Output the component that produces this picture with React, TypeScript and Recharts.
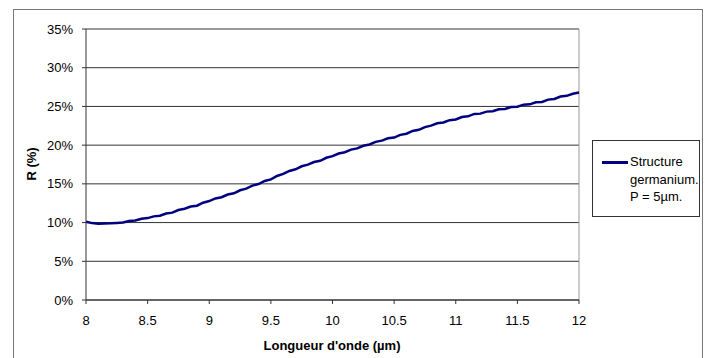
import { LineChart, Line, XAxis, YAxis, CartesianGrid, ReferenceLine } from 'recharts';

const wavelengths = [
  8.0, 8.05, 8.1, 8.15, 8.2, 8.25, 8.3, 8.35, 8.4, 8.45,
  8.5, 8.55, 8.6, 8.65, 8.7, 8.75, 8.8, 8.85, 8.9, 8.95,
  9.0, 9.05, 9.1, 9.15, 9.2, 9.25, 9.3, 9.35, 9.4, 9.45,
  9.5, 9.55, 9.6, 9.65, 9.7, 9.75, 9.8, 9.85, 9.9, 9.95,
  10.0, 10.05, 10.1, 10.15, 10.2, 10.25, 10.3, 10.35, 10.4, 10.45,
  10.5, 10.55, 10.6, 10.65, 10.7, 10.75, 10.8, 10.85, 10.9, 10.95,
  11.0, 11.05, 11.1, 11.15, 11.2, 11.25, 11.3, 11.35, 11.4, 11.45,
  11.5, 11.55, 11.6, 11.65, 11.7, 11.75, 11.8, 11.85, 11.9, 11.95,
  12.0,
];

// R (%)
const reflectance = [
  10.1, 9.93, 9.85, 9.88, 9.9, 9.96, 10.0, 10.2, 10.28, 10.5,
  10.58, 10.8, 10.88, 11.16, 11.28, 11.62, 11.78, 12.07, 12.18, 12.57,
  12.78, 13.12, 13.28, 13.62, 13.78, 14.17, 14.38, 14.77, 14.98, 15.37,
  15.58, 16.02, 16.28, 16.67, 16.88, 17.27, 17.48, 17.82, 17.98, 18.37,
  18.58, 18.92, 19.08, 19.42, 19.58, 19.92, 20.08, 20.42, 20.58, 20.88,
  20.98, 21.33, 21.48, 21.83, 21.98, 22.33, 22.52, 22.83, 22.92, 23.23,
  23.32, 23.63, 23.72, 24.03, 24.07, 24.33, 24.37, 24.63, 24.67, 24.93,
  24.97, 25.23, 25.27, 25.53, 25.57, 25.88, 25.97, 26.28, 26.37, 26.63,
  26.8,
];

const xTicks = [8, 8.5, 9, 9.5, 10, 10.5, 11, 11.5, 12];
const yTicks = [0, 5, 10, 15, 20, 25, 30, 35];

const seriesName = ['Structure', 'germanium.', 'P = 5µm.'];

const data = wavelengths.map((w, i) => ({ w, r: reflectance[i] }));

const font = '"Liberation Sans", Arial, sans-serif';
const tickStyle = { fontSize: 13, fill: '#000', fontFamily: font };

export default function App() {
  return (
    <div style={{ position: 'fixed', left: 0, top: 0, width: 706, height: 358, background: '#fff', overflow: 'hidden', fontFamily: font }}>
      <div style={{ position: 'absolute', left: 13, top: 9, width: 690, height: 360, border: '1px solid #777', boxSizing: 'border-box' }} />
      <LineChart
        width={706}
        height={358}
        data={data}
        margin={{ top: 29, right: 127, left: 26, bottom: 28 }}
        style={{ position: 'absolute', left: 0, top: 0 }}
      >
        <CartesianGrid vertical={false} stroke="#333" />
        <XAxis
          dataKey="w"
          type="number"
          domain={[8, 12]}
          ticks={xTicks}
          tick={tickStyle}
          tickSize={4}
          tickMargin={12}
          height={30}
          stroke="#333"
        />
        <YAxis
          domain={[0, 35]}
          ticks={yTicks}
          tickFormatter={(v) => `${v}%`}
          tick={tickStyle}
          tickSize={4}
          tickMargin={9}
          width={60}
          stroke="#333"
        />
        <ReferenceLine y={35} stroke="#999" />
        <ReferenceLine x={12} stroke="#999" />
        <Line
          type="linear"
          dataKey="r"
          stroke="#000080"
          strokeWidth={2.5}
          dot={false}
          isAnimationActive={false}
        />
      </LineChart>
      <div style={{ position: 'absolute', left: 31, top: 164, transform: 'translate(-50%, -50%) rotate(-90deg)', fontSize: 13, fontWeight: 'bold', whiteSpace: 'nowrap' }}>
        R (%)
      </div>
      <div style={{ position: 'absolute', left: 332, top: 345, transform: 'translate(-50%, -50%)', fontSize: 13, fontWeight: 'bold', whiteSpace: 'nowrap' }}>
        Longueur d'onde (µm)
      </div>
      <div style={{ position: 'absolute', left: 592, top: 140, width: 108, height: 77, border: '1px solid #333', boxSizing: 'border-box', background: '#fff' }}>
        <div style={{ position: 'absolute', left: 9, top: 20, width: 26, height: 3, background: '#000080' }} />
        <div style={{ position: 'absolute', left: 37, top: 12, fontSize: 13, lineHeight: '17.5px', color: '#000' }}>
          {seriesName.map((s) => (
            <div key={s} style={{ whiteSpace: 'nowrap' }}>{s}</div>
          ))}
        </div>
      </div>
    </div>
  );
}
